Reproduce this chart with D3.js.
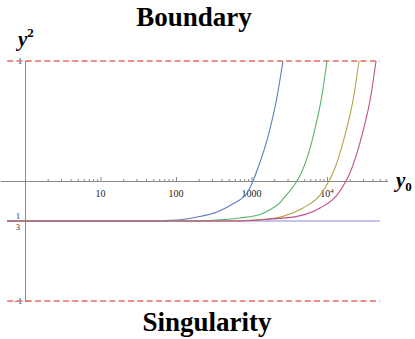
<!DOCTYPE html>
<html><head><meta charset="utf-8">
<script src="https://cdn.jsdelivr.net/npm/d3@7"></script>
<style>body{margin:0;background:#fff} svg{display:block}</style>
</head><body>
<svg id="c" width="415" height="339"></svg>
<script>
// ---- data ----
const blueX  = [0.58, 45, 103, 190, 349, 569, 871, 1047, 1220, 1654, 2177, 2612];
const blueY  = [-0.333, -0.332, -0.325, -0.30, -0.258, -0.19, -0.10, 0, 0.11, 0.37, 0.70, 1.0];
const greenX = [0.58, 208, 349, 704, 1297, 1758, 2384, 2778, 4009, 4668, 6625, 8590, 10000];
const greenY = [-0.333, -0.333, -0.325, -0.308, -0.28, -0.24, -0.18, -0.13, 0, 0.08, 0.383, 0.717, 1.0];
const oliveX = [0.58, 519, 1758, 2612, 4812, 8081, 10630, 11650, 17310, 22780, 26550];
const oliveY = [-0.333, -0.333, -0.315, -0.295, -0.225, -0.117, 0, 0.05, 0.383, 0.717, 1.0];
const magentaX = [0.58, 704, 1758, 4009, 8081, 13550, 17860, 19560, 29090, 38280, 44580];
const magentaY = [-0.333, -0.333, -0.318, -0.295, -0.225, -0.117, 0, 0.05, 0.383, 0.717, 1.0];
const fixedX = [0.58, 50000];
const fixedY = [-1/3, -1/3];
const boundaryX = [0.58, 50000], boundaryY = [1, 1];
const singularX = [0.58, 50000], singularY = [-1, -1];

const xMajorTicks = [10, 100, 1000, 10000];
const xMajorLabels = ["10", "100", "1000", "10^4"];
const yTicks = [1, -1/3, -1];
const axisXRange = [0.47, 64000];

const svg = d3.select("#c");
const x = d3.scaleLog().domain([1, 1e4]).range([25, 327]);
const y = d3.scaleLinear().domain([-1, 1]).range([301, 61]);
const axisColor = "#8a8a8a";
const serif = "'Liberation Serif','Times New Roman',serif";

// ---- x axis ----
const xa = x.copy().domain(axisXRange).range([x(axisXRange[0]), x(axisXRange[1])]);
const minor = xa.ticks(40).filter(v => v > 1 && !xMajorTicks.includes(v) && Math.abs(Math.log10(v) - Math.round(Math.log10(v))) > 1e-9);
const gx = svg.append("g").attr("transform", `translate(0,${y(0)})`);
gx.call(d3.axisBottom(xa).tickValues(minor).tickSize(-2).tickSizeOuter(0).tickFormat(""));
const gx2 = svg.append("g").attr("transform", `translate(0,${y(0)})`);
gx2.call(d3.axisBottom(xa).tickValues(xMajorTicks).tickSize(-4).tickSizeOuter(0).tickFormat(""));
gx2.select(".domain").remove();
[gx, gx2].forEach(g => { g.selectAll("path,line").attr("stroke", axisColor); });

const xl = svg.append("g").attr("font-family", serif).attr("font-size", 10).attr("fill", "#222");
xMajorTicks.forEach((v, i) => {
  const lab = xMajorLabels[i];
  const t = xl.append("text").attr("x", x(v)).attr("y", y(0) + 16).attr("text-anchor", "middle");
  if (lab.includes("^")) {
    const [b, e] = lab.split("^");
    t.append("tspan").text(b);
    t.append("tspan").attr("font-size", 7).attr("dy", -4).text(e);
  } else t.text(lab);
});

// ---- y axis ----
const gy = svg.append("g").attr("transform", `translate(${x(1)},0)`);
gy.call(d3.axisLeft(y).tickValues(yTicks).tickSize(-4).tickSizeOuter(0).tickFormat(""));
gy.selectAll("path,line").attr("stroke", axisColor);

const yl = svg.append("g").attr("font-family", serif).attr("font-size", 8).attr("fill", "#222");
yl.append("text").attr("x", x(1) - 3).attr("y", y(1) + 3).attr("text-anchor", "end").text("1");
yl.append("text").attr("x", x(1) - 3).attr("y", y(-1) + 3).attr("text-anchor", "end").text("\u22121");
yl.append("text").attr("x", x(1) - 7).attr("y", y(-1/3) - 2).attr("text-anchor", "middle").text("1");
yl.append("text").attr("x", x(1) - 7).attr("y", y(-1/3) + 9).attr("text-anchor", "middle").text("3");
yl.append("text").attr("x", x(1) - 12).attr("y", y(-1/3) + 3).attr("text-anchor", "end").text("\u2212");

// ---- lines ----
const line = d3.line().x(d => x(d[0])).y(d => y(d[1])).curve(d3.curveMonotoneX);
const zip = (a, b) => a.map((v, i) => [v, b[i]]);

svg.append("path").datum(zip(fixedX, fixedY)).attr("d", line)
  .attr("fill", "none").attr("stroke", "#8585d6").attr("stroke-width", 1.2);

const series = [
  [blueX, blueY, "#5b7cc0"],
  [greenX, greenY, "#58b26c"],
  [oliveX, oliveY, "#b5a24c"],
  [magentaX, magentaY, "#c0508e"]
];
series.forEach(([sx, sy, c]) => {
  svg.append("path").datum(zip(sx, sy)).attr("d", line)
    .attr("fill", "none").attr("stroke", c).attr("stroke-width", 1.1);
});

[[boundaryX, boundaryY], [singularX, singularY]].forEach(([sx, sy]) => {
  svg.append("path").datum(zip(sx, sy)).attr("d", d3.line().x(d => x(d[0])).y(d => y(d[1])))
    .attr("fill", "none").attr("stroke", "#ec6a6a").attr("stroke-width", 1.4)
    .attr("stroke-dasharray", "6,3.3");
});

// ---- titles / labels ----
svg.append("text").attr("x", 194).attr("y", 26).attr("text-anchor", "middle")
  .attr("font-family", serif).attr("font-weight", "bold").attr("font-size", 27).text("Boundary");
svg.append("text").attr("x", 207).attr("y", 331).attr("text-anchor", "middle")
  .attr("font-family", serif).attr("font-weight", "bold").attr("font-size", 27).text("Singularity");

const ylab = svg.append("text").attr("x", 18).attr("y", 46)
  .attr("font-family", serif).attr("font-weight", "bold").attr("font-style", "italic").attr("font-size", 21);
ylab.append("tspan").text("y");
ylab.append("tspan").attr("font-size", 13).attr("dy", -9).attr("font-style", "normal").text("2");

const xlab = svg.append("text").attr("x", 396).attr("y", 187)
  .attr("font-family", serif).attr("font-weight", "bold").attr("font-style", "italic").attr("font-size", 21);
xlab.append("tspan").text("y");
xlab.append("tspan").attr("font-size", 13).attr("dy", 4).attr("font-style", "normal").text("0");
</script>
</body></html>
